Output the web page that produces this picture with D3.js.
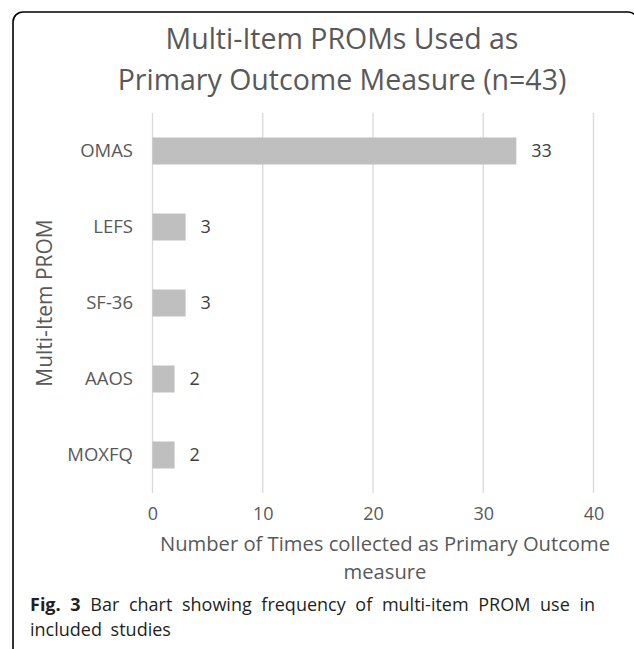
<!DOCTYPE html>
<html lang="en">
<head>
    <meta charset="UTF-8">
    <title>Multi-Item PROMs Used as Primary Outcome Measure</title>
    <script src="https://d3js.org/d3.v7.min.js"></script>
    <style>
        body {
            margin: 0;
            background: #fff;
        }
        text {
            font-family: 'Open Sans', sans-serif;
        }
    </style>
</head>
<body>
    <svg id="chart"></svg>

    <script>
        // Datos
        const categories = ["OMAS", "LEFS", "SF-36", "AAOS", "MOXFQ"];
        const counts = [33, 3, 3, 2, 2];
        const xTicks = [0, 10, 20, 30, 40];
        const titleLines = ["Multi-Item PROMs Used as", "Primary Outcome Measure (n=43)"];
        const xTitleLines = ["Number of Times collected as Primary Outcome", "measure"];
        const yTitle = "Multi-Item PROM";

        const width = 634, height = 649;
        const textColor = "#595959";

        const svg = d3.select("#chart")
            .attr("width", width)
            .attr("height", height);

        // Marco redondeado
        svg.append("rect")
            .attr("x", 13)
            .attr("y", 12)
            .attr("width", 625)
            .attr("height", 700)
            .attr("rx", 10)
            .attr("fill", "none")
            .attr("stroke", "#000")
            .attr("stroke-width", 1.6);

        // Escalas
        const x = d3.scaleLinear().domain([0, 40]).range([152.5, 593.5]);
        const y = d3.scaleBand().domain(categories).range([113, 493])
            .paddingInner(0.645).paddingOuter(0.3225);

        // Rejilla vertical
        svg.append("g")
            .selectAll("line")
            .data(xTicks)
            .join("line")
            .attr("x1", d => x(d))
            .attr("x2", d => x(d))
            .attr("y1", 113)
            .attr("y2", 493)
            .attr("stroke", "#d9d9d9")
            .attr("stroke-width", 1.3);

        // Barras
        svg.append("g")
            .selectAll("rect")
            .data(categories)
            .join("rect")
            .attr("x", x(0))
            .attr("y", d => y(d))
            .attr("width", (d, i) => x(counts[i]) - x(0))
            .attr("height", y.bandwidth())
            .attr("fill", "#bfbfbf");

        // Etiquetas de valor
        svg.append("g")
            .selectAll("text")
            .data(categories)
            .join("text")
            .attr("x", (d, i) => x(counts[i]) + 15)
            .attr("y", d => y(d) + y.bandwidth() / 2)
            .attr("dy", "0.35em")
            .attr("font-size", 18)
            .attr("fill", "#404040")
            .text((d, i) => counts[i]);

        // Eje Y (categorías)
        const yAxis = svg.append("g")
            .attr("transform", "translate(133,0)")
            .call(d3.axisLeft(y).tickSize(0).tickPadding(0));
        yAxis.select(".domain").remove();
        yAxis.selectAll("text")
            .attr("font-family", "'Open Sans', sans-serif")
            .attr("font-size", 18.5)
            .attr("fill", textColor);

        // Eje X (ticks)
        const xAxis = svg.append("g")
            .attr("transform", "translate(0,507)")
            .call(d3.axisBottom(x).tickValues(xTicks).tickSize(0).tickPadding(0));
        xAxis.select(".domain").remove();
        xAxis.selectAll("text")
            .attr("font-family", "'Open Sans', sans-serif")
            .attr("font-size", 18)
            .attr("fill", textColor);

        // Título
        svg.append("g")
            .selectAll("text")
            .data(titleLines)
            .join("text")
            .attr("x", 342)
            .attr("y", (d, i) => 49 + i * 41)
            .attr("text-anchor", "middle")
            .attr("font-size", 28.5)
            .attr("fill", textColor)
            .text(d => d);

        // Título eje X
        svg.append("g")
            .selectAll("text")
            .data(xTitleLines)
            .join("text")
            .attr("x", 385)
            .attr("y", (d, i) => 551 + i * 28)
            .attr("text-anchor", "middle")
            .attr("font-size", 20.2)
            .attr("fill", textColor)
            .text(d => d);

        // Título eje Y
        svg.append("text")
            .attr("transform", "translate(52,303) rotate(-90)")
            .attr("text-anchor", "middle")
            .attr("font-size", 21)
            .attr("fill", textColor)
            .text(yTitle);

        // Pie de figura (justificado)
        const cap1 = svg.append("text")
            .attr("x", 30)
            .attr("y", 611)
            .attr("font-size", 18)
            .attr("fill", "#231f20");
        cap1.append("tspan").attr("font-weight", "bold").text("Fig. 3");
        cap1.append("tspan").text(" Bar chart showing frequency of multi-item PROM use in");
        const natural = cap1.node().getComputedTextLength();
        const gaps = 10;
        cap1.attr("word-spacing", Math.max(0, (595 - 30 - natural) / gaps));

        svg.append("text")
            .attr("x", 30)
            .attr("y", 636)
            .attr("font-size", 18)
            .attr("fill", "#231f20")
            .attr("word-spacing", 4)
            .text("included studies");
    </script>
</body>
</html>
